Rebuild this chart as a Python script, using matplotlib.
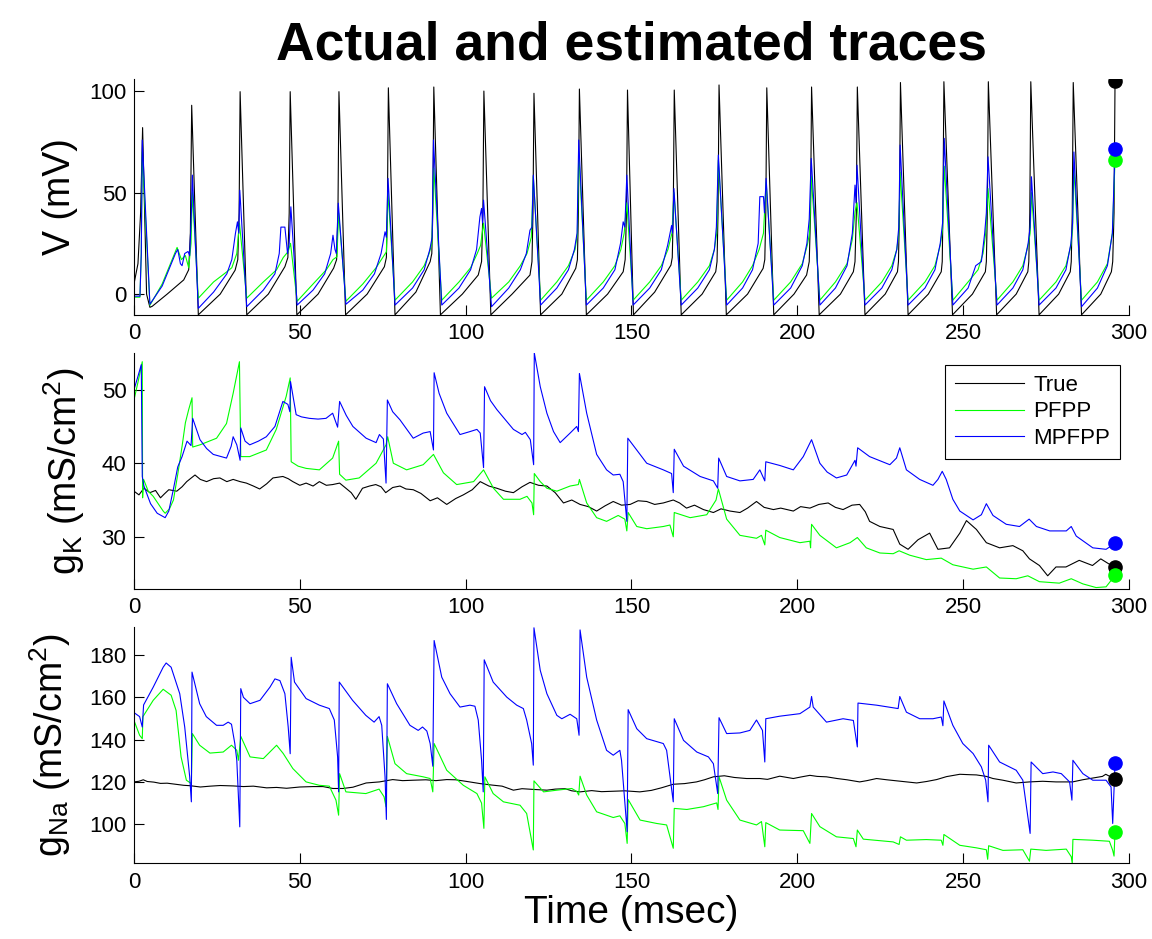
import matplotlib
matplotlib.use("Agg")
import matplotlib.pyplot as plt

plt.rcParams['font.family'] = ['Liberation Sans', 'DejaVu Sans']
plt.rcParams['mathtext.fontset'] = 'custom'
plt.rcParams['mathtext.rm'] = 'Liberation Sans'
plt.rcParams['mathtext.it'] = 'Liberation Sans:italic'
plt.rcParams['mathtext.bf'] = 'Liberation Sans:bold'

# (time in msec, value)
v_true = [(0, 5), (1.2, 15), (2.0, 40), (2.6, 82), (3.8, 0), (4.8, -6.5), (5.5, -6), (10, 0), (15, 7),
          (16.5, 12), (17.0, 30), (17.4, 93),
          (19.4, -10.2), (26, 0), (30.5, 11.8), (31.3, 17), (31.7, 40), (32.0, 99.7),
          (34.0, -10.2), (40.5, 0), (45.5, 13.5), (46.4, 18), (46.8, 40), (47.1, 99.7),
          (49.1, -10.2), (55.5, 0), (60.2, 12.8), (61.1, 17), (61.5, 40), (61.8, 99.7),
          (63.8, -10.2), (70.3, 0), (75.5, 13.5), (76.1, 18), (76.4, 40), (76.7, 101.6),
          (78.7, -10.2), (85, 1), (89.3, 16), (89.8, 20), (90.1, 40), (90.4, 102),
          (92.4, -10.2), (99, 0), (103.8, 9.4), (104.8, 16), (105.2, 40), (105.5, 100),
          (107.6, -10.2), (114, 0), (119.4, 9.4), (120.0, 16), (120.3, 40), (120.6, 98.9),
          (122.6, -10.2), (129, 0), (133.2, 12.7), (133.7, 17), (134.0, 40), (134.3, 101),
          (136.4, -10.2), (142.8, 0), (147.5, 11), (148.1, 17), (148.5, 40), (148.8, 100.5),
          (150.6, -10.2), (157, 1), (161.9, 14.3), (162.3, 18), (162.6, 40), (162.9, 100.5),
          (165.0, -10.2), (171.3, 0), (175.4, 11), (175.8, 16), (176.1, 40), (176.4, 103),
          (178.6, -10.2), (185, 0), (189.7, 12.7), (190.2, 17), (190.5, 40), (190.8, 101.6),
          (192.9, -10.2), (199, 0), (202.8, 9.4), (203.6, 16), (204.0, 40), (204.3, 102),
          (206.6, -10.2), (213, 0), (216.9, 11), (217.4, 16), (217.8, 40), (218.1, 102),
          (220.4, -10.2), (226.5, 0), (230.2, 11), (230.5, 16), (230.8, 40), (231.1, 104.2),
          (233.4, -10.2), (239.5, 0), (243.4, 11), (243.7, 16), (243.9, 40), (244.2, 104.6),
          (246.8, -10.2), (252.8, 0), (256.7, 11), (257.0, 16), (257.3, 40), (257.6, 104.6),
          (260.1, -10.2), (266, 0), (269.5, 11), (269.8, 16), (270.1, 40), (270.4, 104.6),
          (272.9, -10.2), (278.8, 0), (282.3, 11), (282.6, 16), (282.9, 40), (283.2, 104.2),
          (285.7, -10.2), (291.5, 0), (294.7, 11), (295.1, 16), (295.5, 40), (295.8, 105.1)]

v_pfpp = [(0, -1.5), (1.8, -1.5), (2.2, 20), (2.5, 70), (4.8, -5.5), (8.5, 5), (11, 15), (13, 23),
          (14.3, 17), (15.5, 19), (16.5, 13), (17.2, 25), (17.6, 50),
          (19.4, -2), (24, 6), (28, 11), (29.5, 13), (31.0, 20), (31.8, 35),
          (34.0, -2), (39, 6), (43, 12), (45, 18), (46.5, 21), (47.2, 25),
          (49.2, -3.5), (54, 5), (58, 12), (60, 17), (61.2, 18.4), (61.7, 40),
          (63.9, -3.5), (69, 5), (73, 13), (75, 18), (76.1, 20.8), (76.6, 50),
          (78.7, -3), (84, 6), (87.5, 14), (89.0, 20), (89.8, 25), (90.4, 62),
          (92.8, -3), (98, 6), (101.5, 13), (103.5, 20), (104.5, 24), (105.4, 35),
          (107.8, -2), (113, 6), (116.5, 14), (118.5, 20), (119.8, 28), (120.4, 58),
          (122.6, -3), (127.5, 6), (131, 14), (133, 22), (133.7, 30), (134.1, 70),
          (136.4, -3), (141.5, 6), (145, 14), (146.8, 22), (147.8, 30), (148.6, 45),
          (150.5, -3), (155.5, 6), (159, 14), (161, 22), (162.2, 30), (162.8, 50),
          (165.0, -3), (170, 6), (173.5, 14), (175, 22), (175.7, 30), (176.2, 66),
          (178.7, -3), (183.5, 6), (186.5, 14), (188.5, 22), (189.8, 30), (190.6, 55),
          (192.9, -3), (198, 6), (201.5, 15), (203, 24), (203.7, 30), (204.2, 58),
          (206.8, -3), (211.5, 6), (215, 15), (216.6, 27), (217.4, 40.5), (218.0, 45),
          (220.4, -3), (225.5, 6), (228.5, 14), (230, 22), (230.6, 30), (231.0, 60),
          (233.4, -3), (238.5, 6), (241.5, 14), (243.1, 24), (243.8, 32), (244.3, 63),
          (246.9, -3), (251.5, 6), (254.5, 12), (256, 20), (256.8, 30), (257.5, 52),
          (260.2, -3), (265, 6), (268, 14), (269.6, 24), (270.2, 30), (270.6, 50),
          (272.9, -3), (278, 6), (281, 14), (282.5, 24), (283.0, 32), (283.4, 62),
          (285.7, -3), (290.5, 6), (293.5, 15), (295.0, 30), (295.8, 66)]

v_mpfpp = [(0, -1), (1.8, -1), (2.2, 20), (2.5, 75.9), (4.8, -5),
           (8.5, 4), (11, 14), (12.5, 20), (13.2, 22), (14.0, 15), (14.5, 14), (15.3, 20), (16.3, 21),
           (16.8, 19), (17.3, 40), (17.6, 58.6),
           (19.4, -7), (24, 1), (28, 10), (29.5, 17), (30.6, 30), (31.2, 35.6), (31.6, 30), (31.9, 51.2),
           (34.0, -6.2), (39, 2), (42.5, 10), (43.8, 20), (44.3, 33), (45.5, 33), (46.3, 20), (46.8, 25),
           (47.3, 43),
           (49.2, -5.4), (54, 2), (57.5, 10), (59.3, 20), (60.0, 29), (60.6, 22), (61.0, 20), (61.6, 44.8),
           (63.9, -5), (69, 2), (72.5, 10), (74.5, 20), (75.7, 30.7), (76.1, 28), (76.6, 57),
           (78.7, -5.4), (84, 3), (87.5, 12), (89.2, 22), (89.9, 28), (90.3, 75.9),
           (92.8, -5.4), (98, 3), (101.5, 12), (103.3, 22), (104.3, 38), (104.8, 42.2), (105.1, 35),
           (105.4, 46.3),
           (107.8, -6.2), (113, 3), (116.5, 12), (118.3, 20), (119.4, 31.5), (120.0, 33), (120.4, 58.6),
           (122.6, -5.4), (127.5, 3), (131, 12), (132.8, 22), (133.6, 30), (134.1, 75.9),
           (136.4, -5.4), (141.5, 3), (145, 12), (146.7, 25), (147.5, 35.6), (148.0, 33), (148.6, 58.6),
           (150.5, -5.4), (155.5, 3), (159, 12), (160.9, 24), (162.1, 33.8), (162.4, 30), (162.8, 52),
           (165.0, -5.4), (170, 3), (173.5, 12), (175, 22), (175.6, 33), (176.2, 68.5),
           (178.7, -5.4), (183.5, 3), (186.5, 12), (188.2, 25), (188.7, 48), (189.8, 48), (190.1, 40),
           (190.6, 57),
           (192.9, -5.4), (198, 3), (201.5, 14), (202.9, 25), (203.6, 37), (204.2, 66.8),
           (206.8, -5.4), (211.5, 3), (215, 14), (216.6, 30), (217.4, 53.7), (217.7, 45), (218.0, 63.5),
           (220.4, -5.4), (225.5, 3), (228.5, 12), (230.0, 22), (230.6, 33), (231.0, 73.4),
           (233.4, -5.4), (238.5, 3), (241.5, 12), (243.1, 25), (243.8, 35), (244.3, 76.7),
           (246.9, -5.4), (251.5, 3), (253.8, 14), (255.5, 16), (256.5, 30), (257.0, 40), (257.5, 67.6),
           (260.2, -5.4), (265, 3), (268, 12), (269.6, 25), (270.2, 33), (270.6, 57.8),
           (272.9, -5.4), (278, 3), (281, 12), (282.5, 25), (283.0, 35), (283.4, 70),
           (285.7, -6.2), (290.5, 3), (293.5, 14), (295.0, 30), (295.8, 71.4)]

gk_true = [(0, 36.2), (1.5, 35.7), (3, 36.6), (4.8, 36.0), (6.5, 36.3), (8, 35.3), (9.1, 35.8),
           (10.5, 36.4), (12.9, 36.2), (14.5, 36.8), (15.9, 37.5), (17, 37.9), (18.4, 38.4), (20, 37.8),
           (21.9, 37.5), (24, 37.9), (25.9, 38.0), (28, 37.5), (29.9, 37.8), (32, 37.5), (33.9, 37.3),
           (36, 36.9), (37.9, 36.5), (40, 37.2), (41.9, 38.0), (44.9, 38.2), (46.5, 37.9), (47.9, 37.5),
           (50, 37.0), (51.9, 37.3), (54, 36.9), (55.9, 37.5), (58, 37.0), (59.9, 37.1), (62, 37.3),
           (63.9, 36.6), (65.5, 36.0), (66.9, 35.1), (68.9, 36.6), (71, 36.9), (72.9, 37.1),
           (74.5, 36.8), (75.9, 36.0), (78, 36.7), (80.2, 36.9), (82, 36.5), (84.2, 36.4), (86.5, 35.9),
           (89.3, 34.9), (91.5, 35.3), (94.3, 34.4), (97, 35.2), (99.3, 35.7), (102, 36.4),
           (104.4, 37.5), (107, 36.9), (109.4, 36.6), (112, 36.2), (114.4, 36.0), (117, 36.8),
           (119.4, 37.4), (122, 37.0), (124.5, 36.9), (127, 36.0), (129.5, 34.6), (132, 35.0),
           (134.5, 34.4), (137, 34.1), (139.5, 33.5), (142, 34.2), (144.5, 34.8), (147, 34.3),
           (149.6, 34.4), (152, 34.9), (154.6, 34.8), (157, 34.4), (159.6, 34.6), (162.6, 35.0),
           (164.5, 34.6), (166.6, 33.9), (169, 34.3), (171.7, 33.7), (174.7, 33.3), (177, 33.8),
           (179.7, 33.5), (182.7, 33.3), (185, 33.9), (187.7, 34.8), (190, 34.0), (192.8, 33.7),
           (195, 33.9), (198.8, 33.5), (201, 34.1), (203.8, 33.9), (206.5, 34.4), (209.3, 34.6),
           (211.5, 34.0), (213.8, 33.7), (216.5, 34.3), (218.8, 34.4), (220.5, 33.4), (221.8, 32.1),
           (224.9, 31.4), (228.9, 31.0), (230.9, 29.0), (233.4, 28.3), (236.4, 29.6), (239.9, 30.5),
           (242.4, 28.3), (245.9, 28.5), (249, 30.5), (251, 32.2), (254, 31.0), (257, 29.2),
           (261, 28.5), (265, 28.8), (268, 28.1), (270, 27.0), (273, 26.1), (275.5, 24.7), (278, 25.9),
           (281, 25.9), (285, 26.8), (289, 26.1), (291.5, 27.0), (294, 26.3), (295.8, 25.9)]

gk_pfpp = [(0, 48.6), (1.2, 51), (2.5, 53.8), (2.6, 35.3), (2.9, 37.8), (4.3, 36.2), (5.8, 35.5),
           (8.8, 33.5), (9.4, 33.2), (10.7, 33.8), (11.9, 35.0), (13.2, 38.5), (14.5, 42.3), (15.5, 45.5),
           (16.5, 47.3), (17.5, 48.9), (17.7, 42.2), (19.9, 42.5), (24.9, 43.4), (27.9, 45.4),
           (29.9, 49.5), (31.8, 53.8), (32.2, 40.9), (34.9, 40.9), (39.9, 41.8), (42.9, 44.6),
           (45.9, 49.1), (47.1, 51.6), (47.4, 40.2), (49.5, 39.6), (51.9, 39.3), (55.9, 39.1),
           (59.9, 40.7), (61.7, 43.0), (62.0, 38.5), (63.9, 37.7), (67.9, 38.0), (73.0, 40.0),
           (76.0, 42.5), (76.5, 43.6), (78.2, 40.0), (82.2, 39.1), (87.2, 39.8), (90.3, 41.2),
           (93.3, 38.7), (97.3, 37.1), (102.4, 37.5), (105.4, 39.1), (108.4, 36.6), (111.4, 35.1),
           (116.4, 35.1), (118.5, 35.5), (120.0, 34.6), (120.5, 33.0), (120.7, 38.6), (122.5, 37.5),
           (124.5, 36.6), (127.5, 36.2), (131.5, 36.9), (134.0, 37.1), (134.3, 37.8), (136.5, 34.6),
           (139.5, 32.6), (142.5, 32.1), (146.0, 32.9), (148.0, 32.4), (148.6, 30.8), (149.0, 33.3),
           (151.6, 31.4), (154.6, 31.1), (159.6, 31.4), (161.6, 31.6), (162.6, 30.0), (162.9, 33.3),
           (167.7, 32.6), (172.7, 33.0), (175.5, 35.0), (176.2, 36.5), (178.7, 32.4), (182.7, 30.2),
           (187.7, 29.8), (189.2, 30.2), (190.2, 28.9), (190.5, 30.9), (194.7, 29.9), (200.8, 29.2),
           (203.8, 29.4), (204.0, 28.5), (204.3, 31.7), (206.8, 30.2), (211.8, 28.5), (215.9, 29.2),
           (218.1, 29.9), (220.8, 28.5), (224.9, 27.8), (228.9, 27.7), (230.7, 28.1), (233.9, 27.5),
           (238.9, 26.9), (243.4, 27.1), (246.9, 26.2), (253.0, 25.6), (257.0, 25.9), (261.0, 24.4),
           (266.0, 24.3), (269.5, 24.7), (273.0, 23.9), (279.0, 23.7), (282.6, 24.3), (286.1, 23.6),
           (290.1, 23.1), (293.1, 23.2), (295.8, 24.75)]

gk_mpfpp = [(0, 50.0), (1.0, 51.5), (2.2, 53.4), (2.5, 38.2), (3.0, 36.9), (5, 34.5), (7, 33.2),
            (9.4, 32.6), (10.5, 33.5), (11.9, 36.5), (13.2, 39.5), (14.5, 40.9), (16.0, 43.0),
            (17.2, 42.4), (17.7, 46.1), (19.9, 43.2), (21.9, 42.0), (23.9, 41.2), (27.9, 40.7),
            (29.3, 42.3), (29.9, 43.6), (31.0, 42.5), (32.0, 40.4), (32.2, 44.8), (33.5, 43.0),
            (34.9, 42.5), (37.5, 43.0), (39.9, 43.6), (42.5, 45.0), (44.9, 48.4), (46.4, 48.0),
            (47.0, 47.0), (47.2, 51.1), (48.9, 46.6), (50.5, 46.3), (52.9, 46.1), (55.5, 46.0),
            (57.9, 46.1), (59.9, 46.8), (61.4, 44.9), (62.0, 48.4), (64, 46.5), (66, 45.0), (70, 43.4),
            (73, 42.8), (74, 43.9), (75.2, 43.3), (76.0, 37.3), (76.4, 48.6), (78, 47.0), (80.2, 45.9),
            (84.2, 43.4), (87.2, 44.1), (89.3, 44.3), (90.3, 41.8), (90.5, 52.3), (92, 49.5),
            (94.3, 46.8), (98.3, 43.9), (101.3, 44.3), (103.4, 44.6), (104.4, 44.1), (105.4, 39.4),
            (105.7, 50.4), (107.5, 48.5), (109.4, 47.3), (114.4, 44.6), (117, 43.9), (118, 44.2),
            (119.5, 43.2), (120.5, 39.8), (120.7, 55.0), (122.5, 50.4), (124.5, 46.8), (126.5, 44.3),
            (128.5, 42.8), (131.5, 44.1), (133.5, 45.0), (134.0, 44.3), (134.3, 52.2), (136.5, 46.8),
            (139.5, 41.2), (142.5, 39.1), (144.5, 38.4), (146.5, 38.5), (147.5, 37.5), (148.6, 32.1),
            (148.9, 43.4), (151.6, 41.8), (154.6, 40.0), (159.6, 39.1), (162.1, 38.6), (162.6, 36.0),
            (162.9, 41.9), (165.7, 39.6), (170.7, 38.2), (174.7, 37.6), (176.0, 36.6), (176.3, 40.7),
            (178.7, 38.2), (182.7, 37.6), (186.7, 37.8), (188.7, 39.1), (190.2, 37.6), (190.5, 40.2),
            (194.7, 39.7), (198.8, 39.1), (201.8, 40.9), (204.3, 43.2), (206.8, 40.0), (209, 38.8),
            (211.8, 38.0), (214.9, 38.4), (217.4, 40.4), (217.7, 39.6), (218.2, 42.1), (221.8, 40.9),
            (227.9, 39.8), (229.9, 40.7), (230.9, 42.1), (232.9, 39.1), (236.9, 37.8), (240.9, 37.0),
            (242.4, 37.8), (243.7, 38.9), (244.9, 37.8), (246.9, 35.1), (249.0, 33.5), (253.0, 32.3),
            (255.5, 33.0), (257.0, 34.5), (259.0, 32.9), (263.0, 31.7), (267.0, 31.4), (269.9, 32.4),
            (272.1, 31.4), (276.1, 30.8), (281.1, 30.8), (282.6, 31.4), (284.1, 30.1), (289.1, 28.5),
            (293.1, 28.3), (295.8, 29.1)]

gna_true = [(0, 120), (1.5, 120.3), (2.8, 121), (4, 120.2), (6, 119.9), (8, 119.3), (10, 119.4),
            (12, 119.0), (15, 118.4), (17, 118.2), (20, 117.6), (23, 118.0), (26, 118.3), (30, 118.1),
            (33, 117.8), (36, 118.0), (40, 117.2), (43, 117.4), (46, 117.0), (50, 117.6), (54, 117.8),
            (57, 117.8), (60, 116.9), (63, 116.9), (66, 117.5), (70, 119.5), (74, 120.0), (78, 121.1),
            (81, 120.6), (84.2, 120.8), (88, 121.0), (91, 120.6), (94.3, 121.1), (97, 121.0),
            (100, 120.3), (104.4, 119.2), (108, 118.5), (111, 118.0), (114.4, 116.1), (117, 116.8),
            (120, 116.5), (124.5, 116.1), (127, 116.6), (130, 116.8), (132, 115.8), (134.5, 115.3),
            (138, 115.9), (141, 115.4), (144.5, 115.6), (148, 115.8), (152.5, 115.3), (156, 116.0),
            (159, 117.2), (162.6, 118.9), (166, 119.2), (169.6, 120.0), (172, 121.0), (174.7, 122.4),
            (178, 122.9), (181, 122.1), (184.7, 121.6), (188.7, 121.6), (191, 121.2), (194.7, 122.7),
            (198.8, 121.6), (201, 122.3), (203.8, 123.1), (206, 122.6), (208.8, 122.4), (212, 121.6),
            (215, 121.0), (218.8, 120.0), (221, 120.6), (223.9, 121.6), (227, 121.0), (230, 120.5),
            (233, 120.0), (236, 119.5), (239, 120.2), (242, 121.1), (245, 122.5), (249, 123.6),
            (252, 123.4), (254, 123.3), (257, 122.6), (259, 121.6), (262, 120.8), (266, 119.5),
            (270, 120.0), (274, 120.3), (278, 120.0), (283, 120.0), (286, 121.0), (289, 121.8),
            (292, 122.6), (293, 123.6), (295.8, 121.3)]

gna_pfpp = [(0, 149.0), (1.7, 142.0), (2.5, 140.4), (2.7, 150.8), (5.8, 158.5), (8.8, 163.7),
            (11.2, 160.9), (12.7, 153.7), (14.2, 131.8), (15.8, 120.8), (17.3, 119.2), (17.6, 142.8),
            (19.8, 137.3), (22.9, 133.6), (26.9, 134.1), (29.4, 137.3), (31.0, 134.9), (31.5, 130.2),
            (32.2, 141.5), (35.0, 131.8), (39.0, 131.0), (43.0, 137.3), (45.0, 133.4), (47.9, 126.3),
            (51.9, 120.0), (55.9, 118.4), (58.9, 118.0), (60.9, 111.4), (61.7, 104.3), (62.0, 123.9),
            (63.9, 115.3), (69.9, 114.5), (73.9, 116.6), (75.4, 113.0), (76.0, 108.3), (76.4, 141.5),
            (78.7, 128.6), (82.2, 123.9), (87.2, 122.4), (89.3, 121.6), (90.1, 115.3), (90.5, 138.1),
            (94.3, 125.5), (99.3, 118.4), (103.4, 114.5), (104.8, 110.0), (105.5, 98.1), (105.8, 122.4),
            (108.3, 114.5), (111.4, 110.6), (116.4, 109.0), (118.4, 105.1), (120.4, 87.9),
            (120.6, 120.5), (123.5, 115.3), (127.5, 116.1), (132.0, 116.9), (133.5, 115.5),
            (134.1, 113.8), (134.5, 122.7), (136.5, 113.8), (139.5, 105.9), (144.5, 103.2),
            (146.5, 104.0), (148.0, 100.4), (148.7, 91.0), (149.0, 111.7), (152.6, 102.0),
            (157.6, 100.4), (160.6, 99.7), (162.6, 88.7), (162.9, 107.5), (166.7, 107.0),
            (171.7, 108.3), (175.7, 110.1), (176.1, 107.0), (176.4, 122.4), (178.7, 111.4),
            (182.7, 102.0), (187.7, 99.7), (189.2, 101.3), (190.2, 89.4), (190.5, 100.8), (194.7, 97.3),
            (201.8, 97.0), (203.8, 91.0), (204.3, 105.1), (206.8, 98.9), (211.8, 94.1), (216.9, 93.3),
            (217.7, 89.4), (218.1, 97.3), (219.9, 93.0), (228.9, 91.7), (230.7, 90.5), (231.1, 94.1),
            (232.9, 92.5), (238.9, 92.8), (243.4, 92.5), (243.9, 90.1), (244.2, 95.2), (249.0, 90.1),
            (254.0, 88.9), (257.0, 88.0), (257.4, 83.5), (257.7, 89.9), (262.0, 87.7), (268.0, 88.0),
            (270.0, 82.6), (270.4, 88.3), (275.0, 87.7), (281.1, 88.3), (282.6, 84.7), (282.9, 81.6),
            (283.1, 92.9), (289.1, 92.5), (294.1, 92.0), (295.1, 87.7), (295.5, 85), (295.8, 96.5)]

gna_mpfpp = [(0, 152.7), (1.7, 150.8), (2.5, 145.9), (2.9, 156.3), (5.8, 164.7), (8.8, 174.1),
             (9.7, 176.1), (11.2, 174.1), (13.8, 161.6), (15.3, 145.9), (16.8, 122.4), (17.3, 110.6),
             (17.5, 171.8), (19.8, 156.9), (21.8, 150.8), (24.9, 146.7), (26.9, 146.7), (28.4, 148.2),
             (29.4, 147.2), (30.4, 138.1), (31.0, 130.2), (31.9, 98.8), (32.2, 164.0), (33.0, 159.9),
             (35.0, 156.9), (38.0, 158.5), (41.0, 164.7), (42.5, 168.6), (44.0, 167.8), (45.5, 161.6),
             (46.5, 145.9), (47.1, 133.3), (47.4, 178.8), (48.4, 167.1), (51.9, 159.3), (55.9, 156.2),
             (58.9, 154.6), (60.4, 149.2), (61.4, 131.8), (61.7, 115.3), (61.9, 167.1), (65.9, 158.5),
             (69.9, 151.4), (72.4, 148.2), (73.9, 150.8), (74.7, 146.7), (75.7, 122.4), (76.1, 102.3),
             (76.4, 166.3), (79.2, 156.9), (83.2, 146.7), (85.7, 144.3), (87.0, 145.9), (88.3, 144.0),
             (89.3, 138.1), (90.1, 127.4), (90.5, 186.7), (92.8, 169.4), (95.3, 161.6), (98.3, 155.3),
             (101.3, 156.2), (102.8, 155.7), (103.8, 149.2), (104.8, 130.3), (105.3, 115.3),
             (105.6, 177.6), (108.3, 167.1), (112.4, 160.0), (115.4, 156.2), (117.4, 154.6),
             (118.4, 149.2), (119.9, 138.1), (120.4, 127.9), (120.6, 192.7), (122.5, 172.6),
             (124.5, 161.6), (127.5, 151.4), (129.0, 149.8), (131.5, 151.9), (133.5, 149.8),
             (134.2, 142.0), (134.5, 191.7), (136.5, 169.4), (139.5, 149.2), (142.5, 134.9),
             (144.5, 132.6), (146.5, 134.9), (147.0, 130.2), (148.7, 96.5), (149.0, 154.1),
             (151.6, 145.1), (154.6, 140.4), (159.6, 138.1), (160.6, 134.9), (162.6, 110.6),
             (162.9, 149.8), (165.7, 139.6), (169.7, 134.1), (173.2, 131.8), (174.7, 128.6),
             (176.0, 114.5), (176.4, 150.3), (178.7, 142.8), (182.7, 143.1), (185.7, 144.3),
             (187.7, 149.2), (189.5, 144.3), (190.2, 129.4), (190.5, 149.8), (194.7, 151.0),
             (200.8, 152.2), (203.8, 155.3), (204.3, 160.3), (204.8, 155.3), (208.8, 148.2),
             (213.8, 149.8), (216.9, 149.0), (218.1, 136.5), (218.3, 157.2), (223.9, 156.2),
             (230.4, 154.6), (230.9, 160.3), (232.9, 152.9), (236.9, 149.8), (240.9, 149.8),
             (243.4, 150.6), (243.9, 146.5), (244.2, 158.2), (246.9, 146.7), (249.9, 138.1),
             (253.0, 133.4), (255.5, 127.1), (256.8, 120.8), (257.5, 110.6), (257.7, 137.3),
             (261.0, 129.4), (266.0, 125.5), (268.0, 120.8), (270.2, 95.7), (270.5, 129.4),
             (274.0, 123.9), (277.1, 124.7), (279.6, 123.9), (282.1, 120.0), (282.8, 111.4),
             (283.1, 130.2), (286.1, 123.9), (289.1, 120.8), (293.1, 120.8), (294.6, 117.6),
             (295.1, 100.4), (295.8, 128.7)]

labels = ['True', 'PFPP', 'MPFPP']
colors = ['black', '#00ff00', '#0000ff']
x_ticks = [0, 50, 100, 150, 200, 250, 300]

panels = [
    dict(series=[v_true, v_pfpp, v_mpfpp], ylim=(-10.3, 106), yticks=[0, 50, 100],
         ylabel='V (mV)', label_x=-0.056),
    dict(series=[gk_true, gk_pfpp, gk_mpfpp], ylim=(22.9, 55), yticks=[30, 40, 50],
         ylabel=r'g$_\mathrm{K}$ (mS/cm$^\mathrm{2}$)', label_x=-0.047),
    dict(series=[gna_true, gna_pfpp, gna_mpfpp], ylim=(81.6, 193), yticks=[100, 120, 140, 160, 180],
         ylabel=r'g$_\mathrm{Na}$ (mS/cm$^\mathrm{2}$)', label_x=-0.061),
]

fig = plt.figure(figsize=(11.52, 9.39), dpi=100)
bottoms = [0.6645, 0.3727, 0.0806]
axes = []
for p, b in zip(panels, bottoms):
    ax = fig.add_axes([0.1163, b, 0.8637, 0.2515])
    lines = []
    for pts, c, lab in zip(p['series'], colors, labels):
        t, y = zip(*pts)
        ln, = ax.plot(t, y, color=c, lw=0.8, label=lab)
        lines.append(ln)
    for pts, c in zip(p['series'], colors):
        ax.plot(pts[-1][0], pts[-1][1], 'o', color=c, ms=9.5, zorder=5)
    ax.set_xlim(0, 300)
    ax.set_ylim(*p['ylim'])
    ax.set_xticks(x_ticks)
    ax.set_yticks(p['yticks'])
    ax.spines['top'].set_visible(False)
    ax.spines['right'].set_visible(False)
    for s in ('left', 'bottom'):
        ax.spines[s].set_linewidth(0.8)
    ax.tick_params(direction='in', length=7.5, width=0.8, labelsize=16)
    ax.tick_params(axis='x', pad=6)
    ax.tick_params(axis='y', pad=5.5)
    ax.set_ylabel(p['ylabel'], fontsize=27)
    ax.yaxis.set_label_coords(p['label_x'], 0.5)
    axes.append((ax, lines))

ax2, lines2 = axes[1]
leg = ax2.legend(handles=lines2, loc='upper right', bbox_to_anchor=(0.991, 0.949), fontsize=16,
                 frameon=True, fancybox=False, edgecolor='black', framealpha=1,
                 handlelength=3.1, handletextpad=0.4, labelspacing=0.25, borderpad=0.45,
                 borderaxespad=0)
leg.get_frame().set_linewidth(0.8)

ax3 = axes[2][0]
ax3.set_xlabel('Time (msec)', fontsize=28)
ax3.xaxis.set_label_coords(0.5, -0.135)

fig.text(0.5482, 1 - 60 / 939, 'Actual and estimated traces', ha='center', va='baseline',
         fontsize=38.5, fontweight='bold')

fig.savefig('out.png', dpi=100)
